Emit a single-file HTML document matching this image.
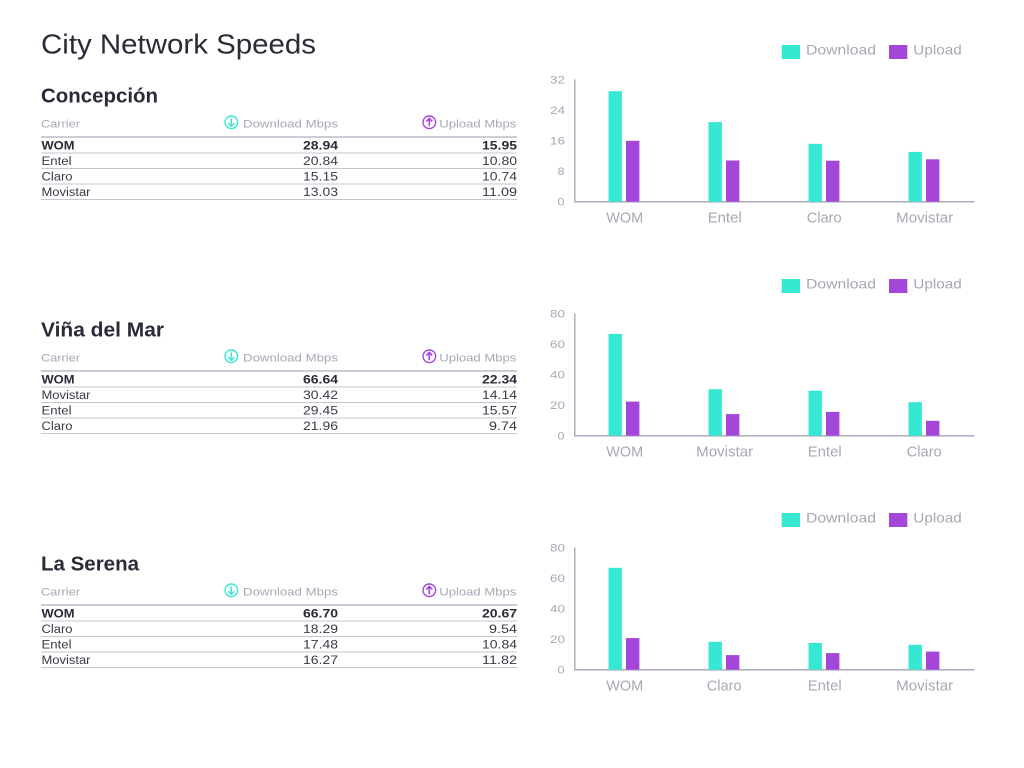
<!DOCTYPE html>
<html><head><meta charset="utf-8"><style>
html,body{margin:0;padding:0;background:#fff;}
svg{display:block;}
text{font-family:"Liberation Sans",sans-serif;}
.t{fill:#2b2a38;}
.h{fill:#a8a7b6;font-size:11px;}
.r{fill:#3a3946;font-size:11.5px;}
.b{fill:#2b2a38;font-size:11.5px;font-weight:bold;}
.tk{fill:#a8a7b6;font-size:11px;}
.xl{fill:#a8a7b6;font-size:15px;}
.lg{fill:#a8a7b6;font-size:14px;}
.d{fill:#36E7D4;}
.u{fill:#A346D9;}
</style></head><body>
<svg width="1024" height="768" viewBox="0 0 1024 768" xmlns="http://www.w3.org/2000/svg">
<defs>
<g id="tbl">
  <text class="h" x="41" y="127.7" textLength="39" lengthAdjust="spacingAndGlyphs">Carrier</text>
  <circle cx="231.3" cy="122.3" r="6.3" fill="none" stroke="#36E7D4" stroke-width="1.4"/>
  <path d="M231.3 118.4 V126.2 M228.3 123.2 L231.3 126.2 L234.3 123.2" fill="none" stroke="#36E7D4" stroke-width="1.4"/>
  <text class="h" x="243" y="127.7" textLength="95" lengthAdjust="spacingAndGlyphs">Download Mbps</text>
  <circle cx="429.3" cy="122.3" r="6.3" fill="none" stroke="#A346D9" stroke-width="1.4"/>
  <path d="M429.3 126.2 V118.4 M426.3 121.4 L429.3 118.4 L432.3 121.4" fill="none" stroke="#A346D9" stroke-width="1.6"/>
  <text class="h" x="439.3" y="127.7" textLength="77" lengthAdjust="spacingAndGlyphs">Upload Mbps</text>
  <rect x="41" y="136" width="476" height="2" fill="#cdcbd6"/>
  <rect x="41" y="152.5" width="476" height="1" fill="#c7c5d1"/>
  <rect x="41" y="168" width="476" height="1" fill="#c7c5d1"/>
  <rect x="41" y="183.5" width="476" height="1" fill="#c7c5d1"/>
  <rect x="41" y="199" width="476" height="1" fill="#c7c5d1"/>
</g>
<g id="axes">
  <rect x="574" y="79.5" width="1.5" height="123" fill="#b0aebd"/>
  <rect x="574" y="201" width="400.5" height="1.6" fill="#b0aebd"/>
  <text class="tk" x="557.5" y="205.7" textLength="7" lengthAdjust="spacingAndGlyphs">0</text>
  <rect x="781.7" y="45" width="18.3" height="14" class="d"/>
  <text class="lg" x="806" y="54.3" textLength="70" lengthAdjust="spacingAndGlyphs">Download</text>
  <rect x="889" y="45" width="18.3" height="14" class="u"/>
  <text class="lg" x="913.3" y="54.3" textLength="48.5" lengthAdjust="spacingAndGlyphs">Upload</text>
</g>
</defs>

<text class="t" x="41" y="53.3" font-size="28" textLength="275" lengthAdjust="spacingAndGlyphs">City Network Speeds</text>

<!-- Section 1 -->
<g>
  <text class="t" x="41" y="102.7" font-size="20" font-weight="bold" textLength="117" lengthAdjust="spacingAndGlyphs">Concepción</text>
  <use href="#tbl"/>
  <text class="b" x="41.5" y="149.3" textLength="33" lengthAdjust="spacingAndGlyphs">WOM</text>
  <text class="b" x="303" y="149.3" textLength="35" lengthAdjust="spacingAndGlyphs">28.94</text>
  <text class="b" x="482" y="149.3" textLength="35" lengthAdjust="spacingAndGlyphs">15.95</text>
  <text class="r" x="41.5" y="164.8" textLength="30" lengthAdjust="spacingAndGlyphs">Entel</text>
  <text class="r" x="303" y="164.8" textLength="35" lengthAdjust="spacingAndGlyphs">20.84</text>
  <text class="r" x="482" y="164.8" textLength="35" lengthAdjust="spacingAndGlyphs">10.80</text>
  <text class="r" x="41.5" y="180.3" textLength="31" lengthAdjust="spacingAndGlyphs">Claro</text>
  <text class="r" x="303" y="180.3" textLength="35" lengthAdjust="spacingAndGlyphs">15.15</text>
  <text class="r" x="482" y="180.3" textLength="35" lengthAdjust="spacingAndGlyphs">10.74</text>
  <text class="r" x="41.5" y="195.8" textLength="49" lengthAdjust="spacingAndGlyphs">Movistar</text>
  <text class="r" x="303" y="195.8" textLength="35" lengthAdjust="spacingAndGlyphs">13.03</text>
  <text class="r" x="482" y="195.8" textLength="35" lengthAdjust="spacingAndGlyphs">11.09</text>

  <use href="#axes"/>
  <text class="tk" x="557.5" y="175.2" textLength="7" lengthAdjust="spacingAndGlyphs">8</text>
  <text class="tk" x="550" y="144.6" textLength="15" lengthAdjust="spacingAndGlyphs">16</text>
  <text class="tk" x="550" y="114.1" textLength="15" lengthAdjust="spacingAndGlyphs">24</text>
  <text class="tk" x="550" y="83.5" textLength="15" lengthAdjust="spacingAndGlyphs">32</text>
  <rect class="d" x="608.5" y="91.2" width="13.4" height="110.5"/>
  <rect class="u" x="626" y="140.8" width="13.4" height="60.9"/>
  <rect class="d" x="708.5" y="122.1" width="13.4" height="79.6"/>
  <rect class="u" x="726" y="160.5" width="13.4" height="41.2"/>
  <rect class="d" x="808.5" y="143.8" width="13.4" height="57.9"/>
  <rect class="u" x="826" y="160.7" width="13.4" height="41.0"/>
  <rect class="d" x="908.5" y="151.9" width="13.4" height="49.8"/>
  <rect class="u" x="926" y="159.3" width="13.4" height="42.4"/>
  <text class="xl" x="606.2" y="222.5" textLength="37" lengthAdjust="spacingAndGlyphs">WOM</text>
  <text class="xl" x="707.7" y="222.5" textLength="34" lengthAdjust="spacingAndGlyphs">Entel</text>
  <text class="xl" x="806.7" y="222.5" textLength="35" lengthAdjust="spacingAndGlyphs">Claro</text>
  <text class="xl" x="896.2" y="222.5" textLength="57" lengthAdjust="spacingAndGlyphs">Movistar</text>
</g>

<!-- Section 2 -->
<g transform="translate(0,234)">
  <text class="t" x="41" y="102.7" font-size="20" font-weight="bold" textLength="123" lengthAdjust="spacingAndGlyphs">Viña del Mar</text>
  <use href="#tbl"/>
  <text class="b" x="41.5" y="149.3" textLength="33" lengthAdjust="spacingAndGlyphs">WOM</text>
  <text class="b" x="303" y="149.3" textLength="35" lengthAdjust="spacingAndGlyphs">66.64</text>
  <text class="b" x="482" y="149.3" textLength="35" lengthAdjust="spacingAndGlyphs">22.34</text>
  <text class="r" x="41.5" y="164.8" textLength="49" lengthAdjust="spacingAndGlyphs">Movistar</text>
  <text class="r" x="303" y="164.8" textLength="35" lengthAdjust="spacingAndGlyphs">30.42</text>
  <text class="r" x="482" y="164.8" textLength="35" lengthAdjust="spacingAndGlyphs">14.14</text>
  <text class="r" x="41.5" y="180.3" textLength="30" lengthAdjust="spacingAndGlyphs">Entel</text>
  <text class="r" x="303" y="180.3" textLength="35" lengthAdjust="spacingAndGlyphs">29.45</text>
  <text class="r" x="482" y="180.3" textLength="35" lengthAdjust="spacingAndGlyphs">15.57</text>
  <text class="r" x="41.5" y="195.8" textLength="31" lengthAdjust="spacingAndGlyphs">Claro</text>
  <text class="r" x="303" y="195.8" textLength="35" lengthAdjust="spacingAndGlyphs">21.96</text>
  <text class="r" x="489" y="195.8" textLength="28" lengthAdjust="spacingAndGlyphs">9.74</text>

  <use href="#axes"/>
  <text class="tk" x="550" y="175.2" textLength="15" lengthAdjust="spacingAndGlyphs">20</text>
  <text class="tk" x="550" y="144.6" textLength="15" lengthAdjust="spacingAndGlyphs">40</text>
  <text class="tk" x="550" y="114.1" textLength="15" lengthAdjust="spacingAndGlyphs">60</text>
  <text class="tk" x="550" y="83.5" textLength="15" lengthAdjust="spacingAndGlyphs">80</text>
  <rect class="d" x="608.5" y="99.9" width="13.4" height="101.8"/>
  <rect class="u" x="626" y="167.6" width="13.4" height="34.1"/>
  <rect class="d" x="708.5" y="155.2" width="13.4" height="46.5"/>
  <rect class="u" x="726" y="180.1" width="13.4" height="21.6"/>
  <rect class="d" x="808.5" y="156.7" width="13.4" height="45.0"/>
  <rect class="u" x="826" y="177.9" width="13.4" height="23.8"/>
  <rect class="d" x="908.5" y="168.2" width="13.4" height="33.5"/>
  <rect class="u" x="926" y="186.8" width="13.4" height="14.9"/>
  <text class="xl" x="606.2" y="222.5" textLength="37" lengthAdjust="spacingAndGlyphs">WOM</text>
  <text class="xl" x="696.2" y="222.5" textLength="57" lengthAdjust="spacingAndGlyphs">Movistar</text>
  <text class="xl" x="807.7" y="222.5" textLength="34" lengthAdjust="spacingAndGlyphs">Entel</text>
  <text class="xl" x="906.7" y="222.5" textLength="35" lengthAdjust="spacingAndGlyphs">Claro</text>
</g>

<!-- Section 3 -->
<g transform="translate(0,468)">
  <text class="t" x="41" y="102.7" font-size="20" font-weight="bold" textLength="98" lengthAdjust="spacingAndGlyphs">La Serena</text>
  <use href="#tbl"/>
  <text class="b" x="41.5" y="149.3" textLength="33" lengthAdjust="spacingAndGlyphs">WOM</text>
  <text class="b" x="303" y="149.3" textLength="35" lengthAdjust="spacingAndGlyphs">66.70</text>
  <text class="b" x="482" y="149.3" textLength="35" lengthAdjust="spacingAndGlyphs">20.67</text>
  <text class="r" x="41.5" y="164.8" textLength="31" lengthAdjust="spacingAndGlyphs">Claro</text>
  <text class="r" x="303" y="164.8" textLength="35" lengthAdjust="spacingAndGlyphs">18.29</text>
  <text class="r" x="489" y="164.8" textLength="28" lengthAdjust="spacingAndGlyphs">9.54</text>
  <text class="r" x="41.5" y="180.3" textLength="30" lengthAdjust="spacingAndGlyphs">Entel</text>
  <text class="r" x="303" y="180.3" textLength="35" lengthAdjust="spacingAndGlyphs">17.48</text>
  <text class="r" x="482" y="180.3" textLength="35" lengthAdjust="spacingAndGlyphs">10.84</text>
  <text class="r" x="41.5" y="195.8" textLength="49" lengthAdjust="spacingAndGlyphs">Movistar</text>
  <text class="r" x="303" y="195.8" textLength="35" lengthAdjust="spacingAndGlyphs">16.27</text>
  <text class="r" x="482" y="195.8" textLength="35" lengthAdjust="spacingAndGlyphs">11.82</text>

  <use href="#axes"/>
  <text class="tk" x="550" y="175.2" textLength="15" lengthAdjust="spacingAndGlyphs">20</text>
  <text class="tk" x="550" y="144.6" textLength="15" lengthAdjust="spacingAndGlyphs">40</text>
  <text class="tk" x="550" y="114.1" textLength="15" lengthAdjust="spacingAndGlyphs">60</text>
  <text class="tk" x="550" y="83.5" textLength="15" lengthAdjust="spacingAndGlyphs">80</text>
  <rect class="d" x="608.5" y="99.8" width="13.4" height="101.9"/>
  <rect class="u" x="626" y="170.1" width="13.4" height="31.6"/>
  <rect class="d" x="708.5" y="173.8" width="13.4" height="27.9"/>
  <rect class="u" x="726" y="187.1" width="13.4" height="14.6"/>
  <rect class="d" x="808.5" y="175.0" width="13.4" height="26.7"/>
  <rect class="u" x="826" y="185.1" width="13.4" height="16.6"/>
  <rect class="d" x="908.5" y="176.8" width="13.4" height="24.9"/>
  <rect class="u" x="926" y="183.6" width="13.4" height="18.1"/>
  <text class="xl" x="606.2" y="222.5" textLength="37" lengthAdjust="spacingAndGlyphs">WOM</text>
  <text class="xl" x="706.7" y="222.5" textLength="35" lengthAdjust="spacingAndGlyphs">Claro</text>
  <text class="xl" x="807.7" y="222.5" textLength="34" lengthAdjust="spacingAndGlyphs">Entel</text>
  <text class="xl" x="896.2" y="222.5" textLength="57" lengthAdjust="spacingAndGlyphs">Movistar</text>
</g>
</svg>
</body></html>
